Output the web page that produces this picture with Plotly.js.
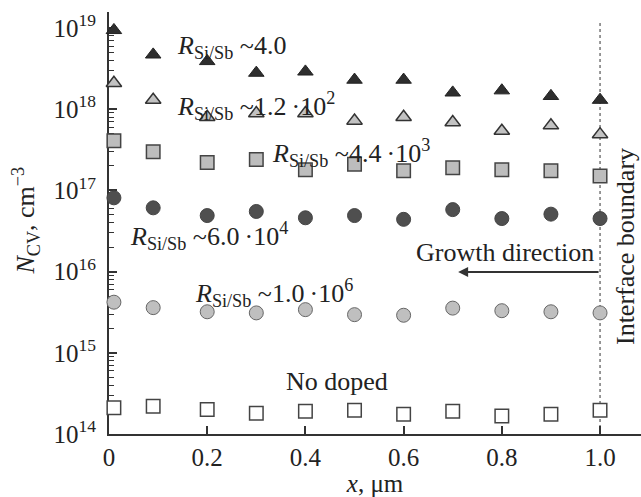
<!DOCTYPE html>
<html>
<head>
<meta charset="utf-8">
<script src="https://cdn.plot.ly/plotly-3.0.1.min.js"></script>
<style>html,body{margin:0;padding:0;background:#fff;}#chart{width:641px;height:497px;}</style>
</head>
<body>
<div id="chart"></div>
<script>
// ---- data ----
const xPos = [0.01, 0.09, 0.2, 0.3, 0.4, 0.5, 0.6, 0.7, 0.8, 0.9, 1.0];
const nR4 =    [9.4e18, 4.7e18, 3.9e18, 2.8e18, 2.9e18, 2.3e18, 2.3e18, 1.6e18, 1.7e18, 1.45e18, 1.3e18];
const nR1e2 =  [2.1e18, 1.3e18, 8.0e17, 8.9e17, 8.9e17, 7.2e17, 8.0e17, 6.9e17, 5.4e17, 6.3e17, 4.9e17];
const nR4e3 =  [4.1e17, 3.0e17, 2.2e17, 2.4e17, 1.8e17, 2.1e17, 1.75e17, 1.9e17, 1.8e17, 1.75e17, 1.5e17];
const nR6e4 =  [8.1e16, 6.1e16, 4.9e16, 5.5e16, 4.6e16, 4.9e16, 4.4e16, 5.8e16, 4.5e16, 5.1e16, 4.5e16];
const nR1e6 =  [4.2e15, 3.6e15, 3.2e15, 3.1e15, 3.4e15, 2.95e15, 2.9e15, 3.55e15, 3.3e15, 3.2e15, 3.1e15];
const nUndoped = [2.1e14, 2.2e14, 2.0e14, 1.8e14, 1.9e14, 1.96e14, 1.75e14, 1.9e14, 1.67e14, 1.75e14, 1.96e14];
const seriesNames = ["R~4.0", "R~1.2e2", "R~4.4e3", "R~6.0e4", "R~1.0e6", "No doped"];
const ratioLabels = ["~4.0", "~1.2\u2009·10<sup>2</sup>", "~4.4\u2009·10<sup>3</sup>", "~6.0\u2009·10<sup>4</sup>", "~1.0\u2009·10<sup>6</sup>"];
const xTickVals = [0, 0.2, 0.4, 0.6, 0.8, 1.0];
const xTickText = ["0", "0.2", "0.4", "0.6", "0.8", "1.0"];
const yTickVals = [1e14, 1e15, 1e16, 1e17, 1e18, 1e19];
const yTickText = ["10<sup>14</sup>", "10<sup>15</sup>", "10<sup>16</sup>", "10<sup>17</sup>", "10<sup>18</sup>", "10<sup>19</sup>"];
const yMinorVals = [];
for (let e = 14; e < 19; e++) for (let m = 2; m <= 9; m++) yMinorVals.push(m * Math.pow(10, e));
const interfaceX = 1.0;
const arrowHeadX = 0.711;

// ---- layout helpers (pixel -> paper) ----
const L = 108.5, R = 641, B = 434, T = 12;
const PW = R - L, PH = B - T;
const px = v => (v - L) / PW;
const py = v => (B - v) / PH;

const FONT = "Liberation Serif, Times New Roman, serif";
const INK = "#222";

function mk(y, symbol, fill, line, lw, size, name) {
  return {
    x: xPos, y: y, type: "scatter", mode: "markers", name: name,
    cliponaxis: false,
    marker: {symbol: symbol, color: fill, size: size, line: {color: line, width: lw}}
  };
}

const traces = [
  mk(nR4, "triangle-up", "#2e2e2e", "#222", 1, 13.5, seriesNames[0]),
  mk(nR1e2, "triangle-up", "#c2c2c2", "#333", 1.5, 13.5, seriesNames[1]),
  mk(nR4e3, "square", "#bdbdbd", "#444", 1.5, 13.5, seriesNames[2]),
  mk(nR6e4, "circle", "#4f4f4f", "#444", 1, 14, seriesNames[3]),
  mk(nR1e6, "circle", "#bfbfbf", "#666", 1, 14, seriesNames[4]),
  mk(nUndoped, "square", "#ffffff", "#444", 1.5, 13.5, seriesNames[5])
];

const afont = {family: FONT, size: 26, color: INK};
const RSUB = "<i>R</i><sub>Si/Sb</sub> ";
function lab(text, xl, yc) {
  return {text: text, xref: "paper", yref: "paper", x: px(xl), y: py(yc),
          xanchor: "left", yanchor: "middle", showarrow: false, font: afont};
}

const annotations = [
  lab(RSUB + ratioLabels[0], 175, 47),
  lab(RSUB + ratioLabels[1], 175, 106),
  lab(RSUB + ratioLabels[2], 270, 153),
  lab(RSUB + ratioLabels[3], 128, 236),
  lab(RSUB + ratioLabels[4], 193, 293),
  lab("No doped", 284, 381),
  {text: "Growth direction", xref: "paper", yref: "paper", x: px(505), y: py(253),
   xanchor: "center", yanchor: "middle", showarrow: false, font: afont},
  {text: "Interface boundary", xref: "paper", yref: "paper", x: px(626), y: py(247),
   xanchor: "center", yanchor: "middle", textangle: -90, showarrow: false, font: afont},
  {text: "", xref: "x", yref: "paper", x: arrowHeadX, y: py(272),
   axref: "x", ayref: "pixel", ax: interfaceX, ay: 0,
   showarrow: true, arrowhead: 2, arrowsize: 1, arrowwidth: 2, arrowcolor: "#333"},
  {text: "<i>N</i><sub>CV</sub>, cm<sup>\u22123</sup>", xref: "paper", yref: "paper",
   x: px(25), y: py(221), xanchor: "center", yanchor: "middle", textangle: -90,
   showarrow: false, font: afont}
];

const layout = {
  width: 641, height: 497,
  margin: {l: L, r: 0, t: T, b: 497 - B, pad: 0},
  paper_bgcolor: "#fff", plot_bgcolor: "#fff",
  showlegend: false,
  font: {family: FONT, size: 25, color: INK},
  xaxis: {
    range: [0, (R - L) / 491.5], showgrid: false, zeroline: false,
    showline: true, linecolor: "#333", linewidth: 2, layer: "below traces",
    tickmode: "array", tickvals: xTickVals, ticktext: xTickText,
    ticks: "inside", ticklen: 8, tickwidth: 1.5, tickcolor: "#333",
    tickfont: {family: FONT, size: 25, color: INK},
    title: {text: "<i>x</i>, μm", font: {family: FONT, size: 25, color: INK}, standoff: 0}
  },
  yaxis: {
    type: "log", range: [14, 14 + PH / 81.2], showgrid: false, zeroline: false,
    showline: true, linecolor: "#333", linewidth: 2, layer: "below traces",
    tickmode: "array", tickvals: yTickVals, ticktext: yTickText,
    ticks: "inside", ticklen: 8, tickwidth: 1.5, tickcolor: "#333",
    ticklabelstandoff: 6,
    tickfont: {family: FONT, size: 25, color: INK},
    minor: {tickmode: "array", tickvals: yMinorVals, ticks: "inside", ticklen: 5, tickwidth: 1.2, tickcolor: "#333"}
  },
  shapes: [
    {type: "line", xref: "x", yref: "paper", x0: interfaceX, x1: interfaceX, y0: 0, y1: py(23),
     line: {color: "#333", width: 1, dash: "dot"}, layer: "below"}
  ],
  annotations: annotations
};

Plotly.newPlot("chart", traces, layout, {displayModeBar: false});
</script>
</body>
</html>
